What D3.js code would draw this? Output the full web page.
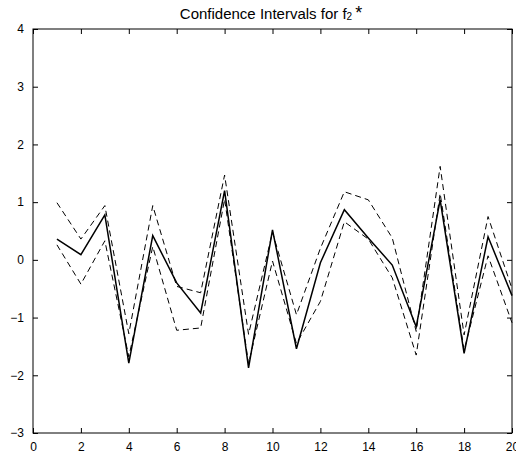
<!DOCTYPE html>
<html><head><meta charset="utf-8">
<script src="https://cdn.jsdelivr.net/npm/d3@7"></script>
<style>body{margin:0;background:#fff;} text{font-family:"Liberation Sans",Arial,sans-serif;}</style>
</head><body>
<svg id="c" width="516" height="457"></svg>
<script>
const xs = [1,2,3,4,5,6,7,8,9,10,11,12,13,14,15,16,17,18,19,20];
const meanVals  = [0.36,0.09,0.78,-1.79,0.42,-0.40,-0.92,1.20,-1.87,0.52,-1.54,-0.05,0.87,0.38,-0.09,-1.16,1.04,-1.62,0.40,-0.62];
const upperVals = [0.99,0.36,0.94,-1.28,0.94,-0.46,-0.57,1.47,-1.29,0.48,-0.95,0.20,1.18,1.04,0.38,-1.24,1.62,-1.30,0.75,-0.50];
const lowerVals = [0.26,-0.42,0.33,-1.68,0.23,-1.22,-1.18,1.05,-1.80,-0.02,-1.45,-0.72,0.66,0.36,-0.31,-1.65,1.15,-1.57,0.07,-1.09];
const xTicks = [0,2,4,6,8,10,12,14,16,18,20];
const yTicks = [-3,-2,-1,0,1,2,3,4];

const svg = d3.select("#c");
const L=33, R=512, T=29, B=433;
const x = d3.scaleLinear().domain([0,20]).range([L,R]);
const y = d3.scaleLinear().domain([-3,4]).range([B,T]);

svg.append("rect").attr("x",L).attr("y",T).attr("width",R-L).attr("height",B-T)
  .attr("fill","none").attr("stroke","#000").attr("stroke-width",1);

const tl = 5;
const fmt = d3.format("d");
const gx = svg.append("g").attr("transform",`translate(0,${B})`)
  .call(d3.axisBottom(x).tickValues(xTicks).tickFormat(fmt).tickSizeInner(-tl).tickSizeOuter(0).tickPadding(9));
const gxt = svg.append("g").attr("transform",`translate(0,${T})`)
  .call(d3.axisTop(x).tickValues(xTicks).tickSizeInner(-tl).tickSizeOuter(0).tickFormat(""));
const gy = svg.append("g").attr("transform",`translate(${L},0)`)
  .call(d3.axisLeft(y).tickValues(yTicks).tickFormat(fmt).tickSizeInner(-tl).tickSizeOuter(0).tickPadding(9));
const gyr = svg.append("g").attr("transform",`translate(${R},0)`)
  .call(d3.axisRight(y).tickValues(yTicks).tickSizeInner(-tl).tickSizeOuter(0).tickFormat(""));
[gx,gxt,gy,gyr].forEach(g=>{
  g.select(".domain").remove();
  g.selectAll("line").attr("stroke","#000");
  g.selectAll("text").attr("font-size",12).attr("fill","#000").attr("font-family","Liberation Sans, Arial, sans-serif");
});

const line = d3.line().x((d,i)=>x(xs[i])).y(d=>y(d));
svg.append("path").datum(upperVals).attr("d",line).attr("fill","none")
  .attr("stroke","#000").attr("stroke-width",1).attr("stroke-dasharray","6,4");
svg.append("path").datum(lowerVals).attr("d",line).attr("fill","none")
  .attr("stroke","#000").attr("stroke-width",1).attr("stroke-dasharray","6,4");
svg.append("path").datum(meanVals).attr("d",line).attr("fill","none")
  .attr("stroke","#000").attr("stroke-width",1.5);

const t = svg.append("text").attr("x",271).attr("y",19).attr("text-anchor","middle")
  .attr("font-size",15).attr("fill","#000");
t.append("tspan").text("Confidence Intervals for f");
t.append("tspan").attr("font-size",10).attr("dy",1).text("2");
t.append("tspan").attr("font-size",18).attr("dx",3).attr("dy",-1).text("*");
</script>
</body></html>
